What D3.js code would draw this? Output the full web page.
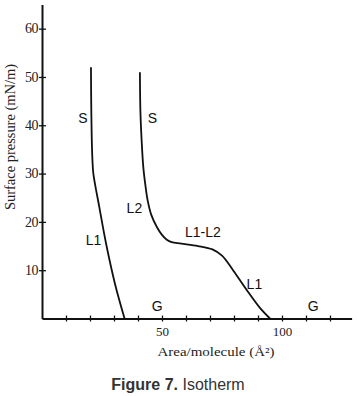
<!DOCTYPE html>
<html>
<head>
<meta charset="utf-8">
<script src="https://cdn.jsdelivr.net/npm/d3@7"></script>
<style>
  body { margin: 0; background: #fff; }
  .axis path, .axis line { stroke: #111; }
  .axis text { font-family: "Liberation Serif", "DejaVu Serif", serif; fill: #222; }
  .phase { font-family: "Liberation Sans", Arial, sans-serif; font-size: 14px; fill: #111; }
</style>
</head>
<body>
<div id="chart"></div>
<script>
// area per molecule (Å²) vs surface pressure (mN/m)
const curveLeft = [
  [20.4, 52], [20.5, 45], [20.7, 38], [21.0, 33], [21.4, 30],
  [23.9, 23], [26.9, 15], [30.5, 7], [34.4, 0]
];
const curveRight = [
  [40.8, 51], [41.0, 43], [41.5, 37], [42.2, 31.4], [43.1, 27.5], [44.0, 24.5],
  [45.5, 21.5], [47.8, 19], [50, 17.3], [52, 16.3], [54, 15.8], [58, 15.5],
  [65, 15], [71, 14.3], [75, 13], [79.6, 10], [85.3, 5.9], [90.8, 2.2], [95, 0]
];
const yTicks = [10, 20, 30, 40, 50, 60];
const xTicks = [10, 20, 30, 40, 50, 60, 70, 80, 90, 100, 110, 120];
const xLabelled = [50, 100];
const phaseLabels = [
  { t: 'S', a: 17, p: 41.5 },
  { t: 'S', a: 46, p: 41.5 },
  { t: 'L2', a: 38.5, p: 22.9 },
  { t: 'L1-L2', a: 67, p: 17.8 },
  { t: 'L1', a: 21.5, p: 16.2 },
  { t: 'L1', a: 88.5, p: 7.1 },
  { t: 'G', a: 48, p: 2.5 },
  { t: 'G', a: 113, p: 2.5 }
];

const W = 359, H = 396;
const svg = d3.select('#chart').append('svg').attr('width', W).attr('height', H);

const x = d3.scaleLinear().domain([0, 129]).range([42, 351.6]);
const y = d3.scaleLinear().domain([0, 65]).range([318.5, 4.5]);

// y axis
const yAxis = d3.axisLeft(y).tickValues(yTicks).tickSizeInner(-4).tickSizeOuter(0)
  .tickPadding(4);
const gy = svg.append('g').attr('class', 'axis').attr('transform', 'translate(42,0)').call(yAxis);
gy.select('.domain').attr('stroke-width', 2);
gy.selectAll('.tick line').attr('x1', -3).attr('stroke-width', 1.3);
gy.selectAll('text').attr('font-size', 14).attr('dy', '0.3em').attr('letter-spacing', -0.5);

// x axis
const xAxis = d3.axisBottom(x).tickValues(xTicks).tickSizeOuter(0).tickPadding(2)
  .tickFormat(d => xLabelled.includes(d) ? d : '');
const gx = svg.append('g').attr('class', 'axis').attr('transform', 'translate(0,318.5)').call(xAxis);
gx.select('.domain').attr('stroke-width', 2);
gx.selectAll('.tick line').attr('y1', -3).attr('y2', 3).attr('stroke-width', 1.3);
gx.selectAll('text').attr('font-size', 13);

// axis titles
svg.append('text')
  .attr('transform', 'translate(15,137) rotate(-90)')
  .attr('text-anchor', 'middle')
  .attr('font-family', '"Liberation Serif", serif').attr('font-size', 14).attr('fill', '#222')
  .attr('textLength', 146).attr('lengthAdjust', 'spacingAndGlyphs')
  .text('Surface pressure (mN/m)');
svg.append('text')
  .attr('x', 216).attr('y', 356)
  .attr('text-anchor', 'middle')
  .attr('font-family', '"Liberation Serif", serif').attr('font-size', 13).attr('fill', '#222')
  .attr('textLength', 117).attr('lengthAdjust', 'spacingAndGlyphs')
  .text('Area/molecule (Å²)');

// isotherm curves
const line = d3.line().x(d => x(d[0])).y(d => y(d[1])).curve(d3.curveCatmullRom.alpha(0.5));
[curveLeft, curveRight].forEach(c => {
  svg.append('path').datum(c).attr('d', line)
    .attr('fill', 'none').attr('stroke', '#111').attr('stroke-width', 1.8);
});

// phase labels
svg.selectAll('.phase').data(phaseLabels).enter().append('text')
  .attr('class', 'phase')
  .attr('x', d => x(d.a)).attr('y', d => y(d.p))
  .attr('text-anchor', 'middle').attr('dy', '0.35em')
  .text(d => d.t);

// caption
const cap = svg.append('text').attr('x', 178).attr('y', 390).attr('text-anchor', 'middle')
  .attr('font-family', '"Liberation Sans", Arial, sans-serif').attr('font-size', 16).attr('fill', '#333');
cap.append('tspan').attr('font-weight', 'bold').text('Figure 7.');
cap.append('tspan').text(' Isotherm');
</script>
</body>
</html>
